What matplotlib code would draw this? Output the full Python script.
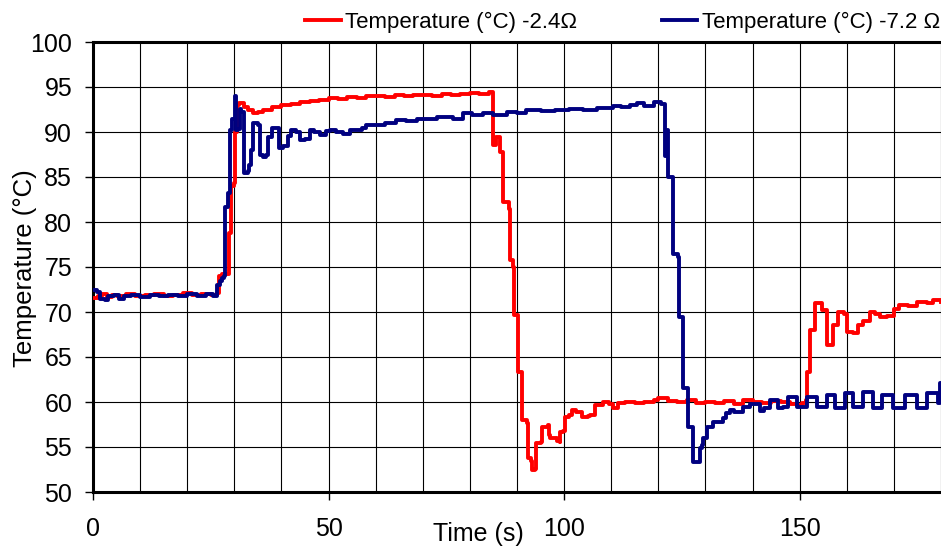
import matplotlib
matplotlib.use("Agg")
import matplotlib.pyplot as plt
from matplotlib.ticker import MultipleLocator

plt.rcParams['font.family'] = ['Liberation Sans', 'DejaVu Sans']

# Temperature (ºC) -2.4 Ω  (red)
t_red = [0, 1, 2, 3, 4, 5, 7, 9, 11, 13, 15, 17, 19, 21, 23, 25, 26.3, 26.8, 27.4, 28.3,
         28.8, 28.8, 29.3, 29.3, 30.0, 30.2, 30.5, 31, 32, 33, 34, 35, 36, 38, 40, 42, 44,
         46, 48, 50, 52, 54, 56, 58, 60, 62, 64, 66, 68, 70, 72, 74, 76, 78, 80, 82, 84,
         85, 85, 85.6, 85.6, 86.2, 86.4, 87.0, 87.0, 88.4, 88.5, 89.2, 89.3, 90.2, 90.3,
         91.0, 91.1, 92.2, 92.3, 93.0, 93.1, 93.9, 94.1, 95.0, 95.3, 96.5, 96.7, 97, 98.5,
         99.1, 99.2, 99.8, 100.2, 101, 101.6, 102.5, 103.8, 105, 105.5, 106.6, 108.3,
         109.5, 110.4, 111.4, 113, 115, 117, 119, 120, 122, 124, 126, 128, 130, 132, 134,
         136, 138, 140, 142, 144, 146, 148, 149.4, 150.5, 151.4, 151.6, 152.1, 152.2,
         153.2, 153.3, 154.7, 154.8, 155.6, 155.8, 157.0, 157.1, 158.1, 158.2, 159.5,
         160.0, 161.3, 162.4, 163.5, 165, 166, 167, 168.5, 170, 171, 173, 175, 177,
         178.3, 180]
temp_red = [71.6, 71.8, 72.0, 71.7, 71.9, 71.8, 72.0, 71.8, 71.9, 72.0, 71.8, 71.9, 72.1,
            71.9, 72.0, 71.9, 72.1, 74.0, 74.2, 74.2,
            74.3, 78.8, 78.8, 84.0, 84.3, 90.0, 93.0, 93.2, 92.8, 92.4, 92.1, 92.2, 92.5,
            92.8, 93.0, 93.1, 93.3, 93.5, 93.6, 93.8, 93.7, 93.9, 93.8, 94.0, 94.0, 93.9,
            94.1, 94.0, 94.1, 94.1, 94.0, 94.2, 94.1, 94.2, 94.3, 94.2, 94.4,
            94.4, 88.6, 88.6, 89.4, 89.4, 87.8, 87.8, 82.2, 81.5, 75.8, 75.0, 69.7, 69.1,
            63.3, 62.8, 58.0, 57.7, 53.8, 53.5, 52.4, 52.6, 55.4, 55.6, 57.2, 57.4, 56.3,
            56.0, 55.7, 55.6, 56.7, 56.8, 58.3, 58.6, 59.1, 58.9, 58.3, 58.4, 58.6, 59.7,
            60.0, 59.8, 59.3, 59.9, 60.0, 59.9, 60.0, 60.2, 60.4, 60.1, 60.0, 60.2, 59.9,
            60.0, 59.9, 60.1, 59.8, 60.2, 60.0, 59.9, 60.1, 60.0, 59.8, 59.7, 59.9, 60.2,
            63.3, 63.6, 68.0, 68.2, 71.0, 70.8, 70.2, 70.2, 66.3, 66.4, 68.6, 68.6, 70.0,
            69.8, 67.8, 67.7, 68.6, 69.0, 70.0, 69.8, 69.4, 69.6, 70.3, 70.8, 70.7, 71.1,
            71.0, 71.3, 71.1]

# Temperature (ºC) -7.2 Ω  (blue)
t_blue = [0, 0.8, 1.5, 2.5, 3.2, 4.5, 5.5, 6.5, 8, 10, 12, 14, 16, 18, 20, 22, 24, 25.5,
          26.3, 27, 27.4, 27.8, 28.0, 28.6, 29.0, 29.1, 29.6, 30.1, 30.3, 30.8, 31.1, 31.5,
          32.0, 32.8, 33.1, 33.6, 34.0, 35.0, 35.4, 36.1, 36.7, 37.2, 38.0, 38.8, 39.4,
          40.4, 41.3, 42.0, 43.0, 44.0, 45.0, 46.0, 47, 48.2, 49.5, 50.3, 51.5, 53, 54.5,
          56, 57, 58, 60.2, 62, 64.4, 66.5, 68.7, 71, 73, 75, 76.5, 78.6, 80.5, 82.8, 85,
          87.9, 90, 92, 95, 98, 101, 104, 107, 110.4, 112, 114, 115.5, 117, 119, 120.5,
          121.4, 121.5, 121.8, 122.0, 122.1, 123.1, 123.2, 124.2, 124.3, 125.2, 125.3,
          126.2, 126.3, 127.3, 127.4, 128.3, 128.8, 129.3, 129.5, 130.3, 131.7, 132.4,
          133.8, 134.3, 135.2, 136, 138, 139.5, 141.6, 142.5, 143.7, 145.5, 146.5, 147.6,
          149.4, 150.5, 151.6, 153.6, 155.7, 157.5, 159.6, 161.3, 163.4, 165.5, 167.4,
          169.8, 172.4, 174.9, 177, 179.4, 179.8, 180]
temp_blue = [72.4, 72.2, 71.5, 71.3, 71.8, 71.9, 71.5, 71.8, 71.9, 71.7, 71.9, 71.8, 71.9,
             71.8, 72.0, 71.8, 72.0, 71.8,
             73.0, 73.4, 73.8, 74.0, 81.7, 83.2, 83.5, 90.2, 91.5, 94.0, 90.2, 90.3, 92.6,
             92.2, 85.5, 85.7, 86.3, 88.0, 91.0, 90.8, 87.5, 87.2, 87.4, 89.4, 90.4, 90.4,
             88.2, 88.4, 89.6, 90.2, 90.0, 89.1, 89.2, 90.2, 90.0, 89.7, 90.1, 90.2, 90.0,
             89.8, 90.2, 90.2, 90.5, 90.8, 90.8, 91.0, 91.3, 91.2, 91.5, 91.4, 91.7, 91.7,
             91.5, 92.1, 91.9, 92.1, 91.9, 92.2, 92.1, 92.4, 92.3, 92.5, 92.6, 92.5, 92.7,
             92.9, 92.8, 93.0, 93.2, 92.9, 93.3, 93.1,
             93.0, 87.3, 90.2, 90.2, 85.0, 84.2, 76.5, 76.1, 69.4, 68.6, 61.6, 61.0, 57.2,
             56.5, 53.3, 53.3, 54.9, 55.2, 56.0, 57.2, 57.8, 57.8, 58.2, 58.8, 59.1, 58.9,
             59.4, 59.8, 59.0, 59.3, 60.2, 59.3, 59.4, 60.6, 59.4, 59.5, 60.6, 59.4, 60.8,
             59.3, 61.0, 59.4, 61.1, 59.3, 60.8, 59.3, 60.8, 59.3, 61.0, 59.9, 62.1, 62.1]

fig = plt.figure(figsize=(9.41, 5.48), dpi=100)
ax = fig.add_axes([93 / 941, 1 - 492 / 548, 1 - 93 / 941, 450 / 548])

ax.plot(t_red, temp_red, color='#FF0000', linewidth=2.8, drawstyle='steps-post',
        label='Temperature (\u00b0C) -2.4\u03a9', zorder=3)
ax.plot(t_blue, temp_blue, color='#000080', linewidth=2.8, drawstyle='steps-post',
        label='Temperature (\u00b0C) -7.2 \u03a9', zorder=4)

ax.set_xlim(0, 180)
ax.set_ylim(50, 100)
ax.xaxis.set_major_locator(MultipleLocator(50))
ax.xaxis.set_minor_locator(MultipleLocator(10))
ax.yaxis.set_major_locator(MultipleLocator(5))

ax.grid(True, which='both', axis='x', color='black', linewidth=0.8)
ax.grid(True, which='major', axis='y', color='black', linewidth=0.8)
ax.set_axisbelow(True)

ax.tick_params(axis='x', which='major', direction='out', length=6, width=1.0,
               labelsize=18, pad=12)
ax.tick_params(axis='x', which='minor', length=0)
ax.tick_params(axis='y', direction='out', length=6, width=1.0, labelsize=18, pad=9)

for side in ['left', 'bottom', 'top']:
    ax.spines[side].set_linewidth(2.2)
ax.spines['right'].set_visible(False)

ax.set_xlabel('Time (s)', fontsize=18)
ax.xaxis.set_label_coords(0.455, -0.067)
ax.set_ylabel('Temperature (\u00b0C)', fontsize=18.5)
ax.yaxis.set_label_coords(-0.066, 0.497)

fig.legend(loc='center left', bbox_to_anchor=(305 / 941, 1 - 22 / 548), ncol=2,
           frameon=False, fontsize=16, handlelength=1.6, handletextpad=0.2,
           columnspacing=3.8, borderpad=0, borderaxespad=0)

fig.savefig('out.png', dpi=100)
